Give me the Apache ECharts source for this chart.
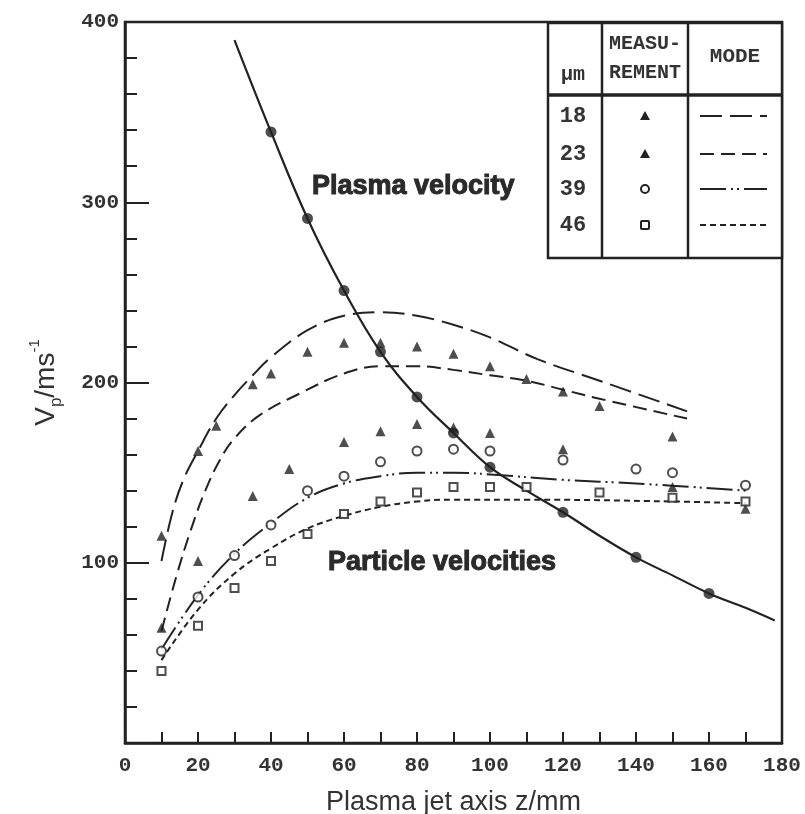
<!DOCTYPE html>
<html>
<head>
<meta charset="utf-8">
<script src="https://cdn.jsdelivr.net/npm/echarts@6/dist/echarts.min.js"></script>
<style>
  html, body { margin: 0; padding: 0; background: #fff; }
  #chart { width: 805px; height: 814px; }
</style>
</head>
<body>
<div id="chart"></div>
<script>
// plasma velocity (measured points and fitted curve)
const plasmaZ = [40, 50, 60, 70, 80, 90, 100, 120, 140, 160];
const plasmaV = [339, 291, 251, 217, 192, 172, 153, 128, 103, 83];
const plasmaCurveZ = [30, 40, 50, 60, 70, 80, 90, 100, 110, 120, 130, 140, 150, 160, 170, 178];
const plasmaCurveV = [390, 339, 291, 251, 217, 192, 172, 153, 140, 128, 115, 103, 93, 83, 75, 68];

// particle measurements
const meas18Z = [10, 20, 25, 35, 40, 50, 60, 70, 80, 90, 100, 110, 120, 130, 150];
const meas18V = [115, 162, 176, 199, 205, 217, 222, 222, 220, 216, 209, 202, 195, 187, 170];
const meas23Z = [10, 20, 35, 45, 60, 70, 80, 90, 100, 120, 150, 170];
const meas23V = [64, 101, 137, 152, 167, 173, 177, 175, 172, 163, 142, 130];
const meas39Z = [10, 20, 30, 40, 50, 60, 70, 80, 90, 100, 120, 140, 150, 170];
const meas39V = [51, 81, 104, 121, 140, 148, 156, 162, 163, 162, 157, 152, 150, 143];
const meas46Z = [10, 20, 30, 40, 50, 60, 70, 80, 90, 100, 110, 130, 150, 170];
const meas46V = [40, 65, 86, 101, 116, 127, 134, 139, 142, 142, 142, 139, 136, 134];

// model curves
const mode18Z = [10, 13, 16, 20, 25, 30, 35, 40, 50, 60, 70, 80, 90, 100, 113, 130, 154];
const mode18V = [101, 128, 146, 162, 180, 193, 204, 214, 229, 237, 239, 237, 232, 225, 213, 201, 184];
const mode23Z = [10, 14, 18, 22, 26, 30, 37, 48, 60, 70, 80, 90, 100, 110, 120, 130, 154];
const mode23V = [62, 92, 118, 140, 157, 169, 182, 194, 205, 209, 209, 207, 204, 201, 196, 191, 180];
const mode39Z = [10, 20, 30, 40, 50, 60, 70, 80, 90, 100, 120, 140, 170];
const mode39V = [52, 82, 105, 122, 136, 144, 148, 150, 150, 149, 146, 144, 140];
const mode46Z = [10, 20, 30, 40, 50, 60, 70, 80, 90, 110, 150, 170];
const mode46V = [46, 74, 94, 108, 119, 126, 131, 134, 135, 135, 134, 133];

const sizeLabels = ['18', '23', '39', '46'];
const xTickLabels = [0, 20, 40, 60, 80, 100, 120, 140, 160, 180];
const yTickLabels = [100, 200, 300, 400];

function pairs(z, v) { return z.map((x, i) => [x, v[i]]); }

const ink = '#222';
const mono = '"Liberation Mono", "DejaVu Sans Mono", monospace';
const sans = '"Liberation Sans", Arial, sans-serif';

let chart = echarts.init(document.getElementById('chart'));

function modeLine(name, z, v, dash) {
  return {
    name: name, type: 'line', smooth: 0.4, symbol: 'none',
    data: pairs(z, v), z: 2,
    lineStyle: { color: ink, width: 2, type: dash }
  };
}
function measure(name, z, v, symbol, size, filled) {
  return {
    name: name, type: 'scatter', data: pairs(z, v), symbol: symbol, symbolSize: size, z: 4,
    itemStyle: filled ? { color: ink } : { color: '#fff', borderColor: ink, borderWidth: 2 }
  };
}

// legend table
const tx = 548, ty = 23, tw = 234, th = 235;
const c1 = 602, c2 = 688, headY = 95;
const rowY = [116, 154, 189, 225];
const dashes = [[22, 8], [14, 7], [26, 5, 2, 4, 2, 5], [6, 4]];
let tableEls = [
  { type: 'rect', shape: { x: tx, y: ty, width: tw, height: th }, style: { fill: '#fff', stroke: ink, lineWidth: 2.5 } },
  { type: 'line', shape: { x1: c1, y1: ty, x2: c1, y2: ty + th }, style: { stroke: ink, lineWidth: 2.5 } },
  { type: 'line', shape: { x1: c2, y1: ty, x2: c2, y2: ty + th }, style: { stroke: ink, lineWidth: 2.5 } },
  { type: 'line', shape: { x1: tx, y1: headY, x2: tx + tw, y2: headY }, style: { stroke: ink, lineWidth: 3.5 } },
  { type: 'text', x: 573, y: 75, style: { text: 'µm', font: 'bold 20px ' + mono, fill: '#333', align: 'center', verticalAlign: 'middle' } },
  { type: 'text', x: 645, y: 44, style: { text: 'MEASU-', font: 'bold 20px ' + mono, fill: '#333', align: 'center', verticalAlign: 'middle' } },
  { type: 'text', x: 645, y: 73, style: { text: 'REMENT', font: 'bold 20px ' + mono, fill: '#333', align: 'center', verticalAlign: 'middle' } },
  { type: 'text', x: 735, y: 57, style: { text: 'MODE', font: 'bold 21px ' + mono, fill: '#333', align: 'center', verticalAlign: 'middle' } }
];
sizeLabels.forEach((s, i) => {
  const y = rowY[i];
  tableEls.push({ type: 'text', x: 573, y: y, style: { text: s, font: 'bold 22px ' + mono, fill: '#333', align: 'center', verticalAlign: 'middle' } });
  tableEls.push({ type: 'line', shape: { x1: 700, y1: y, x2: 767, y2: y }, style: { stroke: ink, lineWidth: 2, lineDash: dashes[i] } });
  if (i < 2) {
    tableEls.push({ type: 'polygon', shape: { points: [[645, y - 5], [650, y + 4], [640, y + 4]] }, style: { fill: ink } });
  } else if (i === 2) {
    tableEls.push({ type: 'circle', shape: { cx: 645, cy: y, r: 4 }, style: { fill: '#fff', stroke: ink, lineWidth: 2 } });
  } else {
    tableEls.push({ type: 'rect', shape: { x: 641, y: y - 4, width: 8, height: 8, r: 1 }, style: { fill: '#fff', stroke: ink, lineWidth: 2 } });
  }
});

chart.setOption({
  backgroundColor: '#fff',
  animation: false,
  grid: {
    left: 125, right: 23, top: 22, bottom: 71, show: true, borderColor: ink, borderWidth: 2.5,
    outerBoundsMode: 'none'
  },
  xAxis: {
    type: 'value', min: 0, max: 180, interval: 20,
    name: 'Plasma jet axis z/mm', nameLocation: 'middle', nameGap: 46,
    nameTextStyle: { fontFamily: sans, fontSize: 27, color: '#333' },
    axisLine: { onZero: false, lineStyle: { color: ink, width: 2.5 } },
    axisTick: { inside: true, length: 11, lineStyle: { color: ink, width: 2 } },
    minorTick: { show: true, splitNumber: 2, length: 11, lineStyle: { color: ink, width: 2 } },
    splitLine: { show: false },
    axisLabel: {
      margin: 12, fontFamily: mono, fontSize: 21, fontWeight: 'bold', color: '#333',
      showMinLabel: true, showMaxLabel: true,
      formatter: v => xTickLabels.includes(v) ? String(v) : ''
    }
  },
  yAxis: {
    type: 'value', min: 0, max: 400, interval: 100,
    name: '{v|V}{s|p}{v|/ms}{e|-1}', nameLocation: 'middle', nameGap: 60, nameRotate: 90,
    nameTextStyle: {
      rich: {
        v: { fontFamily: sans, fontSize: 28, color: '#333', lineHeight: 38, verticalAlign: 'middle' },
        s: { fontFamily: sans, fontSize: 17, color: '#333', verticalAlign: 'bottom' },
        e: { fontFamily: sans, fontSize: 15, color: '#333', verticalAlign: 'top' }
      }
    },
    axisLine: { lineStyle: { color: ink, width: 2.5 } },
    axisTick: { inside: true, length: 24, lineStyle: { color: ink, width: 2 } },
    minorTick: { show: true, splitNumber: 5, length: 12, lineStyle: { color: ink, width: 2 } },
    splitLine: { show: false },
    axisLabel: {
      margin: 6, fontFamily: mono, fontSize: 21, fontWeight: 'bold', color: '#333',
      formatter: v => yTickLabels.includes(v) ? String(v) : ''
    }
  },
  graphic: tableEls.concat([
    { type: 'text', x: 312, y: 187, style: { text: 'Plasma velocity', font: 'bold 27px ' + sans, fill: '#2a2a2a', stroke: '#2a2a2a', lineWidth: 1, verticalAlign: 'middle' } },
    { type: 'text', x: 328, y: 563, style: { text: 'Particle velocities', font: 'bold 27px ' + sans, fill: '#2a2a2a', stroke: '#2a2a2a', lineWidth: 1, verticalAlign: 'middle' } }
  ]),
  series: [
    { name: 'plasma', type: 'line', smooth: 0.4, symbol: 'none', data: pairs(plasmaCurveZ, plasmaCurveV), z: 3,
      lineStyle: { color: ink, width: 2.2 } },
    measure('plasma points', plasmaZ, plasmaV, 'circle', 11, true),
    modeLine('18 model', mode18Z, mode18V, dashes[0]),
    modeLine('23 model', mode23Z, mode23V, dashes[1]),
    modeLine('39 model', mode39Z, mode39V, dashes[2]),
    modeLine('46 model', mode46Z, mode46V, dashes[3]),
    measure('18', meas18Z, meas18V, 'triangle', 10, true),
    measure('23', meas23Z, meas23V, 'triangle', 10, true),
    measure('39', meas39Z, meas39V, 'circle', 9, false),
    measure('46', meas46Z, meas46V, 'rect', 8, false)
  ]
});
</script>
</body>
</html>
